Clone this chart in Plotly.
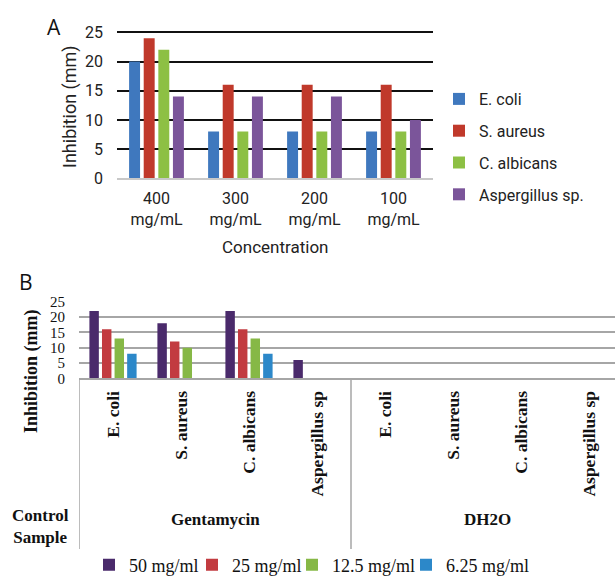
import plotly.graph_objects as go

W, H = 615, 576

# ---------------- Panel A data ----------------
conc_labels = ["400<br>mg/mL", "300<br>mg/mL", "200<br>mg/mL", "100<br>mg/mL"]
a_series_names = ["E. coli", "S. aureus", "C. albicans", "Aspergillus sp."]
a_ecoli = [20, 8, 8, 8]
a_saureus = [24, 16, 16, 16]
a_calbicans = [22, 8, 8, 8]
a_aspergillus = [14, 14, 14, 10]
a_colors = ["#3F78BE", "#C0392B", "#8DC044", "#7B559A"]

# ---------------- Panel B data ----------------
b_controls = ["Gentamycin", "DH2O"]
b_organisms = ["E. coli", "S. aureus", "C. albicans", "Aspergillus sp"]
b_series_names = ["50 mg/ml", "25 mg/ml", "12.5 mg/ml", "6.25 mg/ml"]
b_50 = [22, 18, 22, 6, 0, 0, 0, 0]
b_25 = [16, 12, 16, 0, 0, 0, 0, 0]
b_12_5 = [13, 10, 13, 0, 0, 0, 0, 0]
b_6_25 = [8, 0, 8, 0, 0, 0, 0, 0]
b_colors = ["#4A2A6B", "#C23B40", "#86B846", "#2C88C9"]
yticks = [0, 5, 10, 15, 20, 25]


def px(xp):
    return xp / W


def py(yp):
    return 1 - yp / H


SANS = "Roboto"
SERIF = "Liberation Serif"

fig = go.Figure()

for name, vals, col in zip(a_series_names,
                           [a_ecoli, a_saureus, a_calbicans, a_aspergillus],
                           a_colors):
    fig.add_trace(go.Bar(x=conc_labels, y=vals, name=name, marker_color=col,
                         marker_line_width=0, xaxis="x", yaxis="y",
                         legend="legend", legendgroup=name))

b_ids = [c + " | " + o for c in b_controls for o in b_organisms]
b_ticktext = [o for c in b_controls for o in b_organisms]
b_legend_x = [89, 192, 292, 406]  # legend entry positions (px)
b_legends = {}
for k, (name, vals, col) in enumerate(zip(b_series_names,
                                           [b_50, b_25, b_12_5, b_6_25], b_colors)):
    lg = "legend%d" % (k + 2)
    fig.add_trace(go.Bar(x=b_ids, y=vals, name=name, marker_color=col,
                         marker_line_width=0, xaxis="x2", yaxis="y2",
                         legend=lg, offsetgroup=name))
    b_legends[lg] = dict(orientation="h", x=px(b_legend_x[k]), y=py(565),
                         xanchor="left", yanchor="middle",
                         font=dict(family=SERIF, size=18, color="#111"),
                         itemwidth=30, bgcolor="rgba(0,0,0,0)")

ncat = len(b_ids)
fig.update_layout(
    width=W, height=H,
    margin=dict(l=0, r=0, t=0, b=0, autoexpand=False),
    paper_bgcolor="white", plot_bgcolor="white",
    barmode="group",
    bargap=0.26, bargroupgap=0.25,
    showlegend=True,
    xaxis=dict(domain=[px(117), px(433)], anchor="y",
               tickfont=dict(family=SANS, size=16, color="#222"),
               showgrid=False, showline=True, linecolor="#C8C8C8", linewidth=1.5,
               ticks="", ticklabelstandoff=5, fixedrange=True),
    yaxis=dict(domain=[py(178.3), py(178.3 - 25.2 * 5.84)], anchor="x",
               range=[0, 25.2], tickvals=yticks,
               tickfont=dict(family=SANS, size=16, color="#222"),
               showgrid=True, gridcolor="#111", gridwidth=1.5,
               zeroline=False, showline=False, ticks="",
               ticklabelstandoff=13),
    xaxis2=dict(domain=[px(79), 1], anchor="y2",
                range=[-0.5, ncat - 0.5 - 8 / 68],
                tickvals=b_ids, ticktext=b_ticktext, tickangle=-90,
                tickfont=dict(family=SERIF, size=17.5, color="#111", weight="bold"),
                showgrid=False, showline=True, linecolor="#A6A6A6", linewidth=1.5,
                ticks="", ticklabelstandoff=4),
    yaxis2=dict(domain=[py(378.3), py(378.3 - 25.3 * 3.064)], anchor="x2",
                range=[0, 25.3], tickvals=yticks,
                tickfont=dict(family=SERIF, size=15, color="#111"),
                showgrid=True, gridcolor="#A6A6A6", gridwidth=1.5,
                zeroline=False, showline=False, ticks="",
                ticklabelstandoff=13),
    legend=dict(x=px(439), y=py(82), xanchor="left", yanchor="top",
                font=dict(family=SANS, size=16, color="#222"),
                tracegroupgap=8, itemwidth=30, bgcolor="rgba(0,0,0,0)"),
    **b_legends,
)

# panel B box lines below axis (category separators)
for xv in [-0.5, 3.5]:
    fig.add_shape(type="line", xref="x2", yref="paper", x0=xv, x1=xv,
                  y0=py(378.3), y1=py(549), line=dict(color="#A6A6A6", width=1.5))

annotations = [
    dict(text="A", x=px(54), y=py(27), font=dict(family="Open Sans", size=21, color="#111")),
    dict(text="B", x=px(26), y=py(282), font=dict(family="Open Sans", size=21, color="#111")),
    dict(text="Inhibition (mm)", x=px(70), y=py(107), textangle=-90,
         font=dict(family=SANS, size=18, color="#222")),
    dict(text="Concentration", x=px(275), y=py(247),
         font=dict(family=SANS, size=17, color="#222")),
    dict(text="<b>Inhibition (mm)</b>", x=px(31), y=py(371), textangle=-90,
         font=dict(family=SERIF, size=18, color="#111")),
    dict(text="<b>Control<br>Sample</b>", x=px(40), y=py(526),
         font=dict(family=SERIF, size=17, color="#111")),
]
for a in annotations:
    a.update(xref="paper", yref="paper", showarrow=False,
             xanchor="center", yanchor="middle")
    fig.add_annotation(**a)

for i, c in enumerate(b_controls):
    fig.add_annotation(text="<b>" + c + "</b>", xref="x2", yref="paper",
                       x=i * 4 + 1.5, y=py(519), showarrow=False,
                       xanchor="center", yanchor="middle",
                       font=dict(family=SERIF, size=17, color="#111"))

fig.write_html("out.html", config={"displayModeBar": False},
               post_script="document.body.style.margin='0';document.body.style.overflow='hidden';")
